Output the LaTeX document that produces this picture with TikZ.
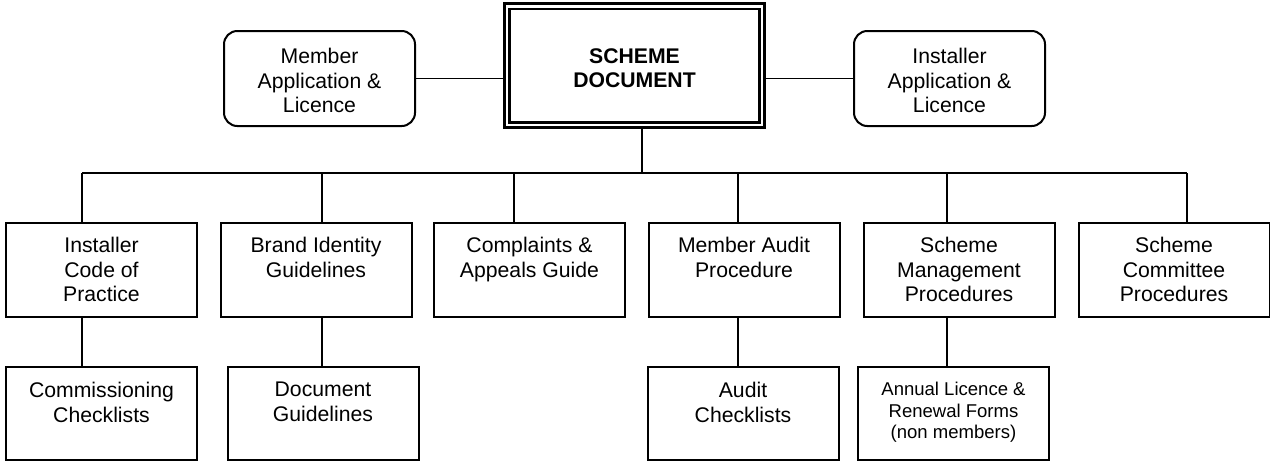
\documentclass[tikz,border=0pt]{standalone}
\usepackage{fontspec}
\setmainfont{Liberation Sans}
\begin{document}
\begin{tikzpicture}[x=0.75pt,y=-0.75pt,
  docbox/.style={draw=black,line width=1.5pt,minimum width=143.25pt,minimum height=70.5pt,inner sep=0pt},
  lowbox/.style={docbox,minimum height=69.75pt},
  appbox/.style={docbox,rounded corners=10pt,minimum height=71.25pt},
  mainbox/.style={draw=black,line width=2pt,double,double distance=2pt,
    minimum width=191.25pt,minimum height=89pt,inner sep=0pt,outer sep=3.1pt},
  lbl/.style={anchor=north,align=center,inner sep=0pt,font=\fontsize{15.9}{18.3}\selectfont},
  smalllbl/.style={lbl,font=\fontsize{13.9}{16}\selectfont},
  link/.style={draw=black,line width=1.2pt}]
\useasboundingbox (0,0) rectangle (1270,462);

% top level
\node[mainbox] (scheme) at (634.5,65.7) {};
\node[lbl,font=\fontsize{15.9}{18.3}\selectfont\bfseries] (schemet) at (634.5,48) {SCHEME\\DOCUMENT};
\node[appbox] (member) at (319.5,78.5) {};
\node[lbl] (membert) at (319.5,48) {Member\\Application \&\\Licence};
\node[appbox] (instapp) at (949.5,78.5) {};
\node[lbl] (instappt) at (949.5,48) {Installer\\Application \&\\Licence};

% second level
\node[docbox] (codep) at (101.5,270) {};
\node[lbl] (codept) at (101.5,237) {Installer\\Code of\\Practice};
\node[docbox] (brand) at (316,270) {};
\node[lbl] (brandt) at (316,237) {Brand Identity\\Guidelines};
\node[docbox] (compl) at (529.5,270) {};
\node[lbl] (complt) at (529.5,237) {Complaints \&\\Appeals Guide};
\node[docbox] (audit) at (744,270) {};
\node[lbl] (auditt) at (744,237) {Member Audit\\Procedure};
\node[docbox] (mgmt) at (959,270) {};
\node[lbl] (mgmtt) at (959,237) {Scheme\\Management\\Procedures};
\node[docbox] (comm) at (1174,270) {};
\node[lbl] (commt) at (1174,237) {Scheme\\Committee\\Procedures};

% third level
\node[lowbox] (commis) at (101.5,413.5) {};
\node[lbl] (commist) at (101.5,382) {Commissioning\\Checklists};
\node[lowbox] (docg) at (323,413.5) {};
\node[lbl] (docgt) at (323,382) {Document\\Guidelines};
\node[lowbox] (auditc) at (743,413.5) {};
\node[lbl] (auditct) at (743,382) {Audit\\Checklists};
\node[lowbox] (annual) at (953.5,413.5) {};
\node[smalllbl] (annualt) at (953.5,382) {Annual Licence \&\\Renewal Forms\\(non members)};

% junctions on the distribution bus
\coordinate (j0) at (642,173);
\coordinate (j1) at (82,173);
\coordinate (j2) at (322,173);
\coordinate (j3) at (514,173);
\coordinate (j4) at (738,173);
\coordinate (j5) at (947,173);
\coordinate (j6) at (1187,173);

% connectors
\draw[link] (member.east) -- (member.east -| scheme.west);
\draw[link] (instapp.west) -- (instapp.west -| scheme.east);
\draw[link] (j0 |- scheme.south) -- (j0);
\draw[link] (j1) -- (j6);
\draw[link] (j1) -- (j1 |- codep.north);
\draw[link] (j2) -- (j2 |- brand.north);
\draw[link] (j3) -- (j3 |- compl.north);
\draw[link] (j4) -- (j4 |- audit.north);
\draw[link] (j5) -- (j5 |- mgmt.north);
\draw[link] (j6) -- (j6 |- comm.north);
\draw[link] (j1 |- codep.south) -- (j1 |- commis.north);
\draw[link] (j2 |- brand.south) -- (j2 |- docg.north);
\draw[link] (j4 |- audit.south) -- (j4 |- auditc.north);
\draw[link] (j5 |- mgmt.south) -- (j5 |- annual.north);
\end{tikzpicture}
\end{document}
